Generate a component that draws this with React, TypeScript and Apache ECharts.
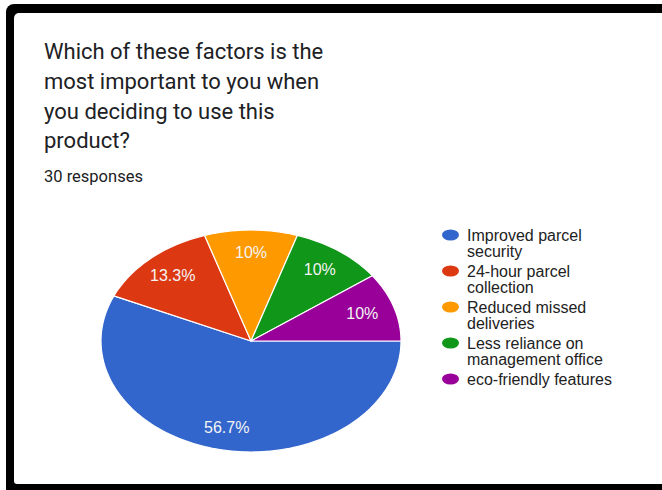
import React, { useEffect, useRef } from 'react';
import * as echarts from 'echarts';

const titleLines = [
  'Which of these factors is the',
  'most important to you when',
  'you deciding to use this',
  'product?',
];
const categories = [
  'Improved parcel security',
  '24-hour parcel collection',
  'Reduced missed deliveries',
  'Less reliance on management office',
  'eco-friendly features',
];
const legendLines = [
  ['Improved parcel', 'security'],
  ['24-hour parcel', 'collection'],
  ['Reduced missed', 'deliveries'],
  ['Less reliance on', 'management office'],
  ['eco-friendly features', ' '],
];
const responses = [17, 4, 3, 3, 3];
const sliceColors = ['#3366cc', '#dc3912', '#ff9900', '#109618', '#990099'];

export default function App() {
  const ref = useRef<HTMLDivElement>(null);
  useEffect(() => {
    const chart = echarts.init(ref.current!, null, { renderer: 'svg' });
    const total = responses.reduce((a, b) => a + b, 0);
    const cum: number[] = [];
    responses.reduce((acc, v, i) => {
      cum[i] = acc;
      return acc + v;
    }, 0);
    const CX = 251, CY = 341, RX = 150, RY = 111;
    const renderItem = (params: any, api: any) => {
      const start = (api.value(0) / total) * Math.PI * 2;
      const v = api.value(1);
      const end = start + (v / total) * Math.PI * 2;
      const pts: number[][] = [[CX, CY]];
      const n = Math.max(4, Math.ceil((end - start) / (Math.PI / 120)));
      for (let k = 0; k <= n; k++) {
        const a = start + ((end - start) * k) / n;
        pts.push([CX + RX * Math.cos(a), CY + RY * Math.sin(a)]);
      }
      const mid = (start + end) / 2;
      const pct = ((v / total) * 100).toFixed(1).replace(/\.0$/, '') + '%';
      return {
        type: 'group',
        children: [
          {
            type: 'polygon',
            shape: { points: pts },
            style: { fill: api.visual('color'), stroke: '#ffffff', lineWidth: 1.2, lineJoin: 'round' },
          },
          {
            type: 'text',
            x: CX + RX * 0.78 * Math.cos(mid),
            y: CY + RY * 0.8 * Math.sin(mid),
            style: {
              text: pct,
              fill: '#f4f4f4',
              fontSize: 16,
              fontFamily: 'Arial',
              align: 'center',
              verticalAlign: 'middle',
            },
          },
        ],
      };
    };

    chart.setOption({
      animation: false,
      color: sliceColors,
      graphic: [
        { type: 'rect', z: -10, silent: true, shape: { x: 6, y: 4, width: 720, height: 520, r: 8 }, style: { fill: '#000000' } },
        { type: 'rect', z: -9, silent: true, shape: { x: 14, y: 13, width: 720, height: 471, r: [5, 0, 0, 3] }, style: { fill: '#ffffff' } },
      ],
      title: [
        {
          text: titleLines.join('\n'),
          left: 44,
          top: 37,
          padding: 0,
          textStyle: { fontFamily: 'Roboto', fontSize: 22, fontWeight: 'normal', color: '#202124', lineHeight: 29.7 },
        },
        {
          text: `${total} responses`,
          left: 44,
          top: 166,
          padding: 0,
          textStyle: { fontFamily: 'Roboto', fontSize: 16.5, fontWeight: 'normal', color: '#202124', lineHeight: 20 },
        },
      ],
      legend: {
        orient: 'vertical',
        left: 437,
        top: 222,
        icon: 'path://M10 0A10 10 0 1 1 10 20A10 10 0 1 1 10 0ZM10 49.09',
        itemWidth: 17,
        itemHeight: 27,
        symbolKeepAspect: false,
        itemGap: 4,
        selectedMode: false,
        textStyle: { fontFamily: 'Arial', fontSize: 16, color: '#222222', lineHeight: 16, padding: [0, 0, 0, 3] },
        formatter: (name: string) => legendLines[categories.indexOf(name)].join('\n'),
        data: categories,
      },
      series: categories.map((name, i) => ({
        type: 'custom',
        name,
        coordinateSystem: 'none',
        renderItem,
        itemStyle: { color: sliceColors[i] },
        data: [[cum[i], responses[i]]],
      })),
    });
    return () => chart.dispose();
  }, []);
  return <div ref={ref} style={{ position: 'absolute', left: 0, top: 0, width: 662, height: 490 }} />;
}
